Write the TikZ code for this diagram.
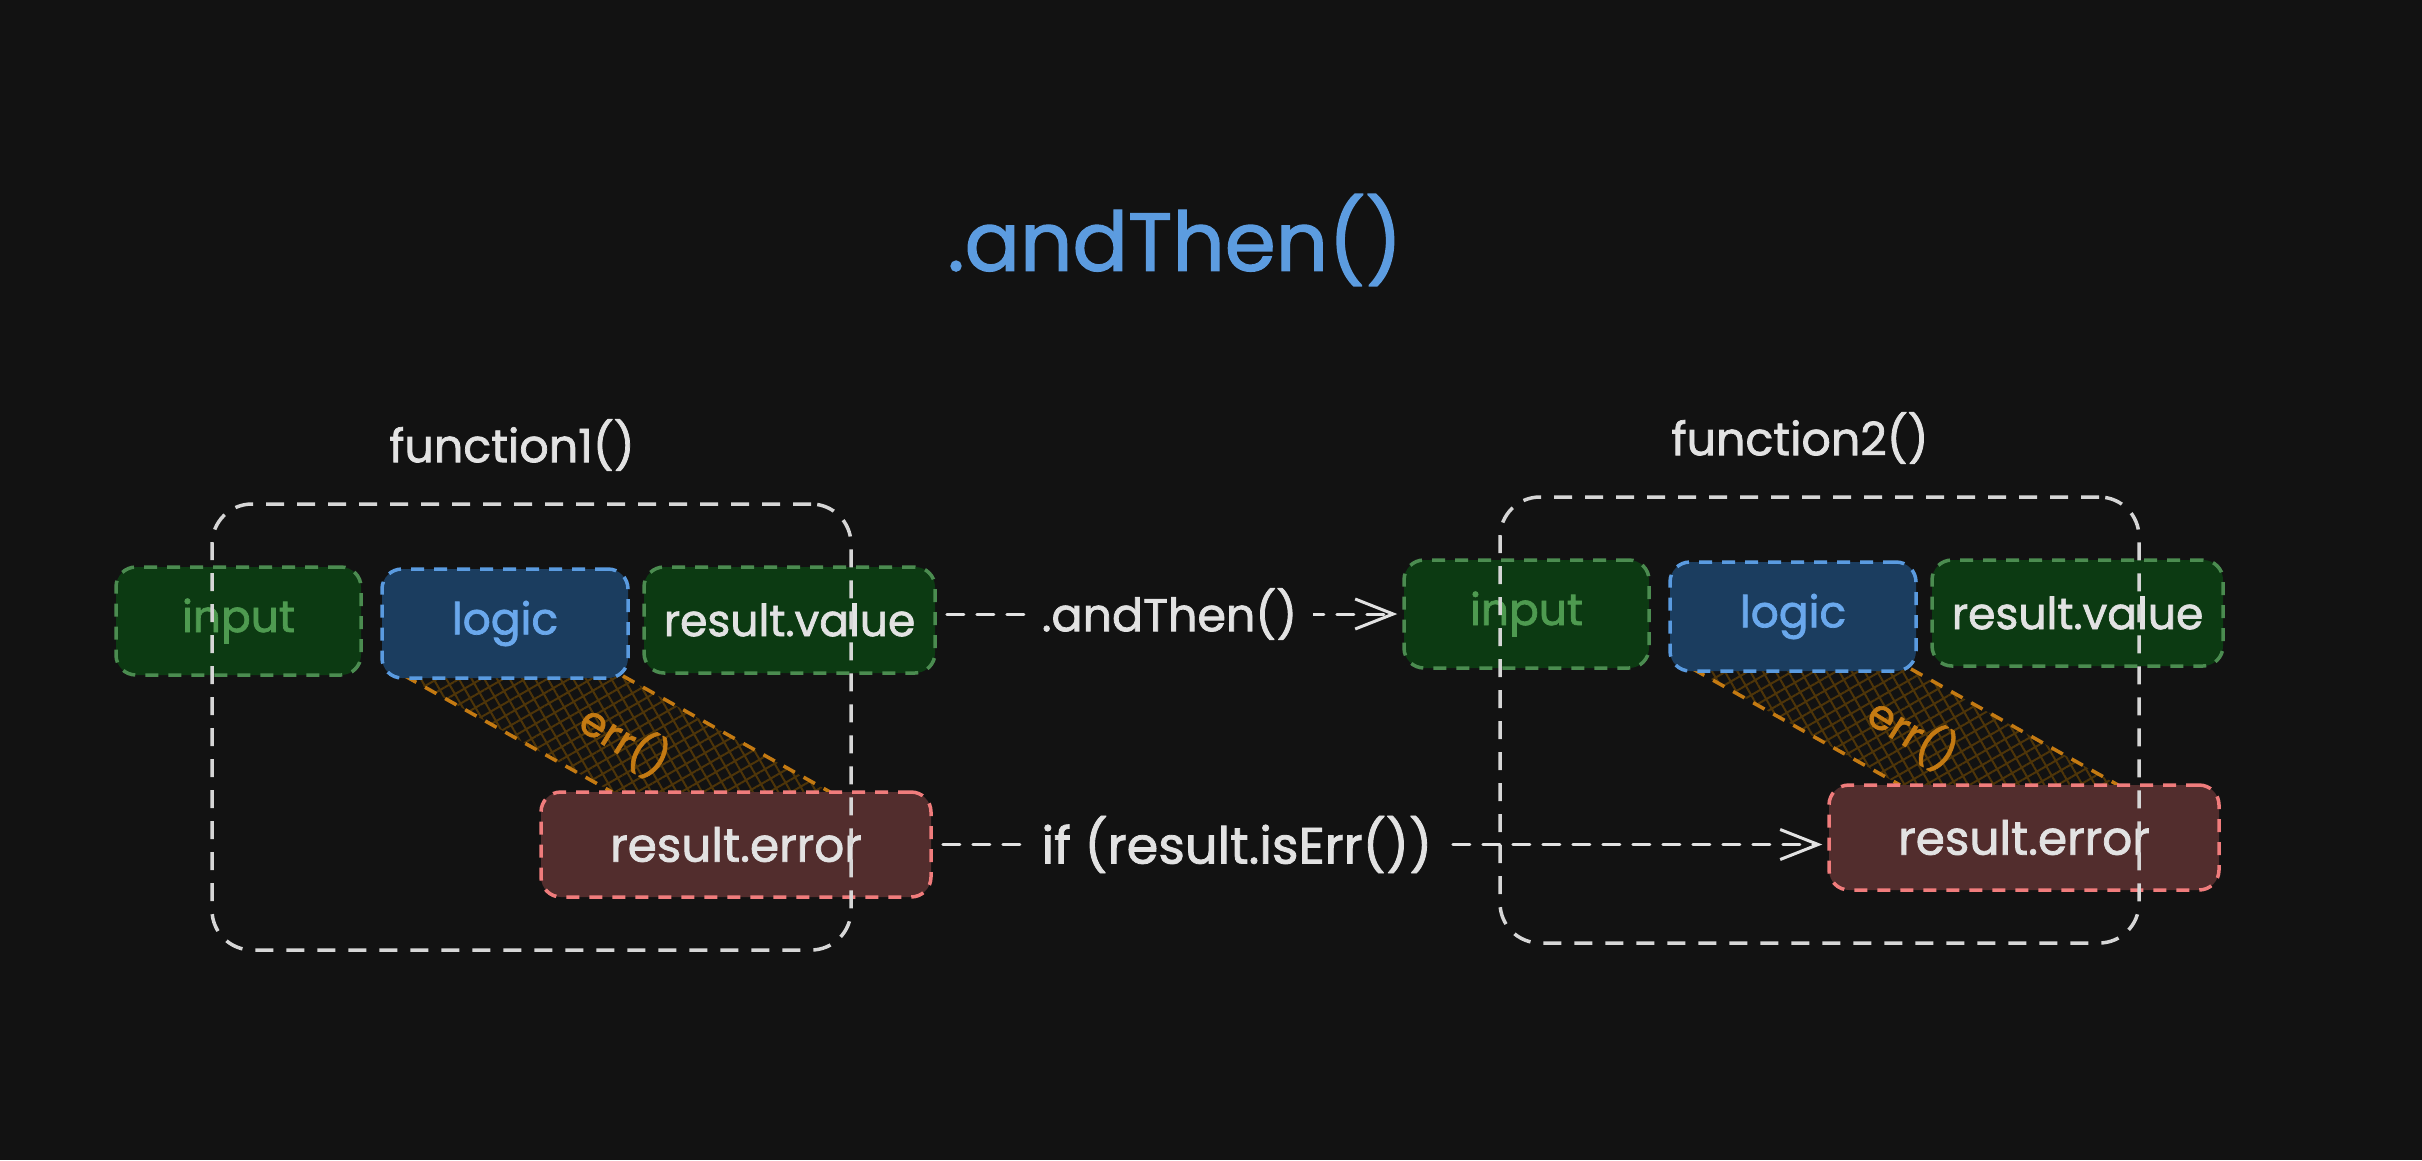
\documentclass[tikz,border=0pt]{standalone}
\usepackage{fontspec}
\setmainfont{Poppins}[FakeBold=1.6]
\usetikzlibrary{arrows.meta,patterns.meta}
\definecolor{bg}{HTML}{121212}
\definecolor{gfill}{HTML}{0C3A12}
\definecolor{gborder}{HTML}{4B8C50}
\definecolor{gtext}{HTML}{4E9A50}
\definecolor{bfill}{HTML}{1B3D5F}
\definecolor{bborder}{HTML}{5A9BE0}
\definecolor{btext}{HTML}{6AA8EC}
\definecolor{rfill}{HTML}{522D2D}
\definecolor{rborder}{HTML}{F07C7C}
\definecolor{light}{HTML}{E2E2E2}
\definecolor{framec}{HTML}{D6D6D6}
\definecolor{errc}{HTML}{C47A12}
\definecolor{hatchc}{HTML}{4E3509}
\definecolor{titlec}{HTML}{5C9CE0}
\tikzset{
  boxbase/.style={rounded corners=20pt, line width=3.5pt, dash pattern=on 13pt off 10pt,
    inner sep=0pt, font=\fontsize{44}{50}\selectfont},
  gbox/.style={boxbase, draw=gborder, fill=gfill},
  bbox/.style={boxbase, draw=bborder, fill=bfill, text=btext},
  rbox/.style={boxbase, draw=rborder, fill=rfill, text=light, font=\fontsize{47}{50}\selectfont},
  framebox/.style={draw=framec, rounded corners=40pt, line width=3.5pt, dash pattern=on 18pt off 13pt},
  banddash/.style={draw=errc, line width=3.5pt, dash pattern=on 13pt off 10pt},
  arrowline/.style={draw=light, line width=3pt, dash pattern=on 17pt off 13pt, line cap=round,
    shorten <=10pt, shorten >=5pt, -{Straight Barb[length=38pt,width=30pt,line width=3pt]}},
  lbl/.style={fill=bg, text=light, inner xsep=16pt, inner ysep=4pt, font=\fontsize{46}{50}\selectfont},
  fnlabel/.style={text=light, font=\fontsize{46}{50}\selectfont},
}
\begin{document}
\begin{tikzpicture}[x=1pt,y=-1pt]
\fill[bg] (0,0) rectangle (2422,1160);
\useasboundingbox (0,0) rectangle (2422,1160);

\node[text=titlec, font=\fontsize{82}{90}\selectfont] (title) at (1175,240) {.andThen()};

\foreach \p/\dx/\dy/\n in {a/0/0/1, b/1288/-7/2} {
  % err() band
  \fill[pattern={Hatch[angle=30,distance=11pt,line width=2pt]}, pattern color=hatchc]
    (405+\dx,676+\dy) -- (623+\dx,676+\dy) -- (830+\dx,792+\dy) -- (612+\dx,792+\dy) -- cycle;
  \draw[banddash] (405+\dx,676+\dy) -- (612+\dx,792+\dy);
  \draw[banddash] (623+\dx,676+\dy) -- (830+\dx,792+\dy);
  \node[text=errc, rotate=-32, inner sep=0pt, font=\fontsize{42}{44}\selectfont] (\p-err) at (625+\dx,740+\dy) {err()};
  % boxes
  \node[gbox, text=gtext, minimum width=245pt, minimum height=108pt] (\p-input) at (238.5+\dx,621+\dy) {input};
  \node[bbox, minimum width=246pt, minimum height=109pt] (\p-logic) at (505+\dx,623.5+\dy) {logic};
  \node[gbox, text=light, minimum width=291pt, minimum height=106pt] (\p-value) at (789.5+\dx,620+\dy) {result.value};
  \node[rbox, minimum width=390pt, minimum height=105pt] (\p-error) at (736+\dx,844.5+\dy) {result.error};
  % frame
  \node[framebox, minimum width=639pt, minimum height=446pt] (\p-frame) at (531.5+\dx,727+\dy) {};
  \node[fnlabel] (\p-label) at (512+\dx,445+\dy) {function\n()};
}

\draw[arrowline] (b-input.west -| a-value.east) -- node[lbl, pos=0.5] (lab1) {.andThen()} (b-input.west);
\draw[arrowline] (a-error.east) -- node[lbl, pos=0.34, font=\fontsize{51}{54}\selectfont] (lab2) {if (result.isErr())} (a-error.east -| b-error.west);
\end{tikzpicture}
\end{document}
